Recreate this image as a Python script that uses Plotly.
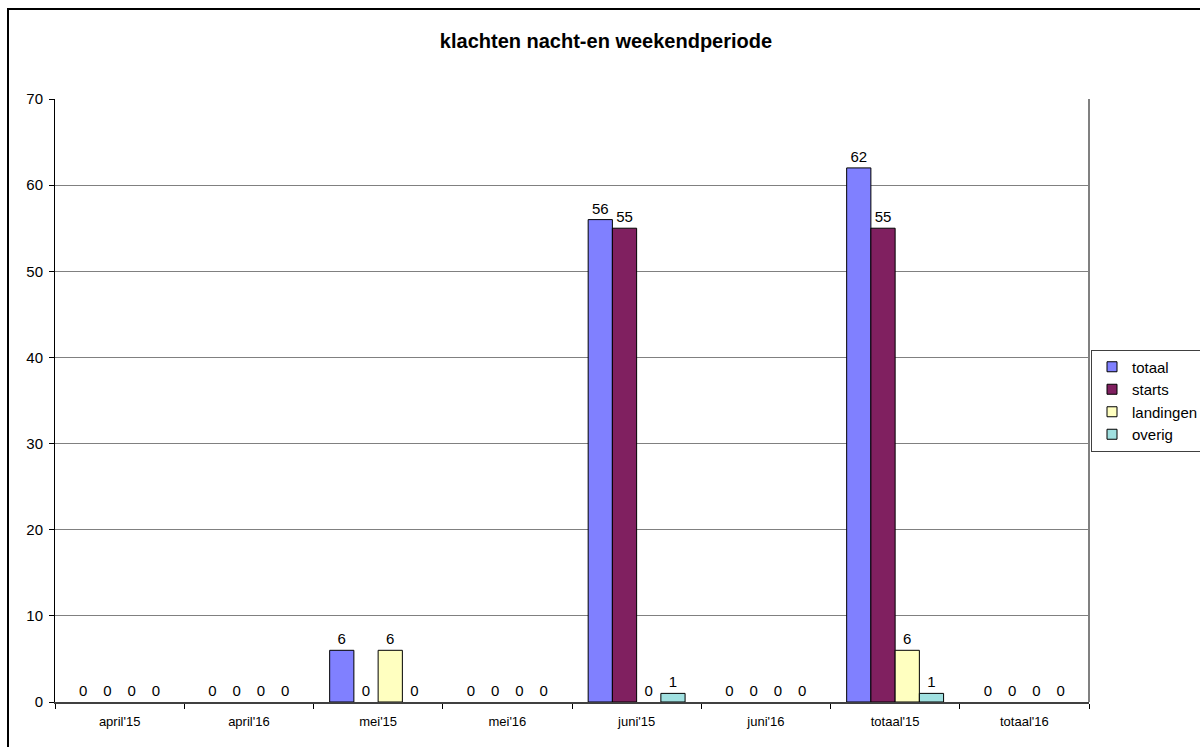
import plotly.graph_objects as go

categories = ["april'15", "april'16", "mei'15", "mei'16", "juni'15", "juni'16", "totaal'15", "totaal'16"]
totaal = [0, 0, 6, 0, 56, 0, 62, 0]
starts = [0, 0, 0, 0, 55, 0, 55, 0]
landingen = [0, 0, 6, 0, 0, 0, 6, 0]
overig = [0, 0, 0, 0, 1, 0, 1, 0]

series = [
    ("totaal", totaal, "#8080FF"),
    ("starts", starts, "#802060"),
    ("landingen", landingen, "#FFFFC0"),
    ("overig", overig, "#A0E0E0"),
]

FONT = "Liberation Sans, Arial, sans-serif"

fig = go.Figure()
for name, vals, color in series:
    fig.add_trace(go.Bar(
        name=name, x=categories, y=vals, showlegend=False,
        marker=dict(color=color,
                    line=dict(color="black", width=[1 if v else 0 for v in vals])),
        text=vals, texttemplate="%{y}", textposition="outside",
        textfont=dict(family=FONT, size=15, color="black"),
        cliponaxis=False,
    ))
# legend entries (square swatches with black outline)
for name, vals, color in series:
    fig.add_trace(go.Scatter(
        name=name, x=[None], y=[None], mode="markers", showlegend=True,
        marker=dict(symbol="square", size=10, color=color, line=dict(color="black", width=1)),
    ))

fig.update_layout(
    width=1200, height=747,
    barmode="group", bargap=0.25, bargroupgap=0,
    plot_bgcolor="white", paper_bgcolor="white",
    margin=dict(l=55, r=111, t=99, b=45, autoexpand=False),
    title=dict(text="<b>klachten nacht-en weekendperiode</b>", x=606/1200, xanchor="center",
               y=1 - 41/747, yanchor="middle",
               font=dict(family=FONT, size=20, color="black")),
    font=dict(family=FONT, size=13, color="black"),
    legend=dict(x=(1091 - 55) / 1034, xanchor="left", y=0.5, yanchor="middle",
                bordercolor="#404040", borderwidth=1, bgcolor="white",
                font=dict(family=FONT, size=15), itemwidth=30),
    showlegend=True,
)

fig.update_xaxes(
    showline=True, linecolor="#404040", linewidth=2,
    ticks="outside", tickson="boundaries", ticklen=5, tickcolor="black",
    showgrid=False, tickfont=dict(family=FONT, size=13), ticklabelstandoff=6,
)
fig.update_yaxes(
    range=[0, 70], dtick=10,
    showline=True, linecolor="black", linewidth=1,
    ticks="outside", ticklen=5, tickcolor="black",
    showgrid=True, gridcolor="#808080", gridwidth=1,
    zeroline=False, tickfont=dict(family=FONT, size=15), ticklabelstandoff=3,
)

# right frame of plot area
fig.add_shape(type="line", xref="paper", yref="paper", x0=1, x1=1, y0=0, y1=1,
              line=dict(color="#808080", width=2))
# outer chart border
fig.add_shape(type="rect", xref="paper", yref="paper",
              x0=(8 - 55) / 1034, x1=(1210 - 55) / 1034,
              y0=(702 - 760) / 603, y1=(702 - 9) / 603,
              line=dict(color="black", width=2), fillcolor="rgba(0,0,0,0)", layer="below")

fig.write_html("out.html", config={"displayModeBar": False},
               post_script="document.body.style.margin='0px';document.body.style.overflow='hidden';")
